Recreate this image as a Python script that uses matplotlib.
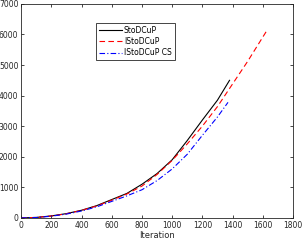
import numpy as np
import matplotlib
matplotlib.use("Agg")
import matplotlib.pyplot as plt

# values
x_sto = [0, 100, 200, 300, 400, 500, 600, 700, 800, 900, 1000, 1100, 1200, 1300, 1380]
y_sto = [0, 15, 65, 140, 250, 400, 600, 800, 1100, 1450, 1900, 2530, 3200, 3850, 4500]

x_isto = [0, 100, 200, 300, 400, 500, 600, 700, 800, 900, 1000, 1100, 1200, 1300, 1400, 1500, 1630]
y_isto = [0, 15, 60, 135, 245, 390, 580, 780, 1040, 1420, 1880, 2420, 3000, 3640, 4380, 5120, 6150]

x_cs = [0, 100, 200, 300, 400, 500, 600, 700, 800, 900, 1000, 1100, 1200, 1300, 1370]
y_cs = [0, 12, 55, 125, 225, 360, 540, 720, 920, 1220, 1600, 2080, 2700, 3300, 3780]

labels = ["StoDCuP", "IStoDCuP", "IStoDCuP CS"]

grey = "#262626"
fig = plt.figure(figsize=(3.02, 2.44), dpi=100)
ax = fig.add_axes([0.07, 0.107, 0.90, 0.877])

ax.plot(x_sto, y_sto, color="black", lw=0.8, label=labels[0])
ax.plot(x_isto, y_isto, color="red", lw=0.8, ls=(0, (5, 3)), label=labels[1])
ax.plot(x_cs, y_cs, color="blue", lw=0.8, ls=(0, (5, 2, 1, 2)), label=labels[2])

ax.set_xlim(0, 1800)
ax.set_ylim(0, 7000)
ax.set_xticks(np.arange(0, 1801, 200))
ax.set_yticks(np.arange(0, 7001, 1000))
ax.tick_params(direction="in", length=2.5, width=0.6, labelsize=5.5, top=True, right=True, pad=2,
               colors=grey, labelcolor=grey)
for s in ax.spines.values():
    s.set_linewidth(0.6)
    s.set_color(grey)
ax.set_xlabel("Iteration", fontsize=6, labelpad=1, color=grey)

leg = ax.legend(loc="upper left", bbox_to_anchor=(0.26, 0.93), fontsize=5.5, fancybox=False,
                edgecolor=grey, framealpha=1, borderpad=0.4, labelspacing=0.3,
                handlelength=3.0, handletextpad=0.3)
leg.get_frame().set_linewidth(0.6)

fig.savefig("out.png", dpi=100)
